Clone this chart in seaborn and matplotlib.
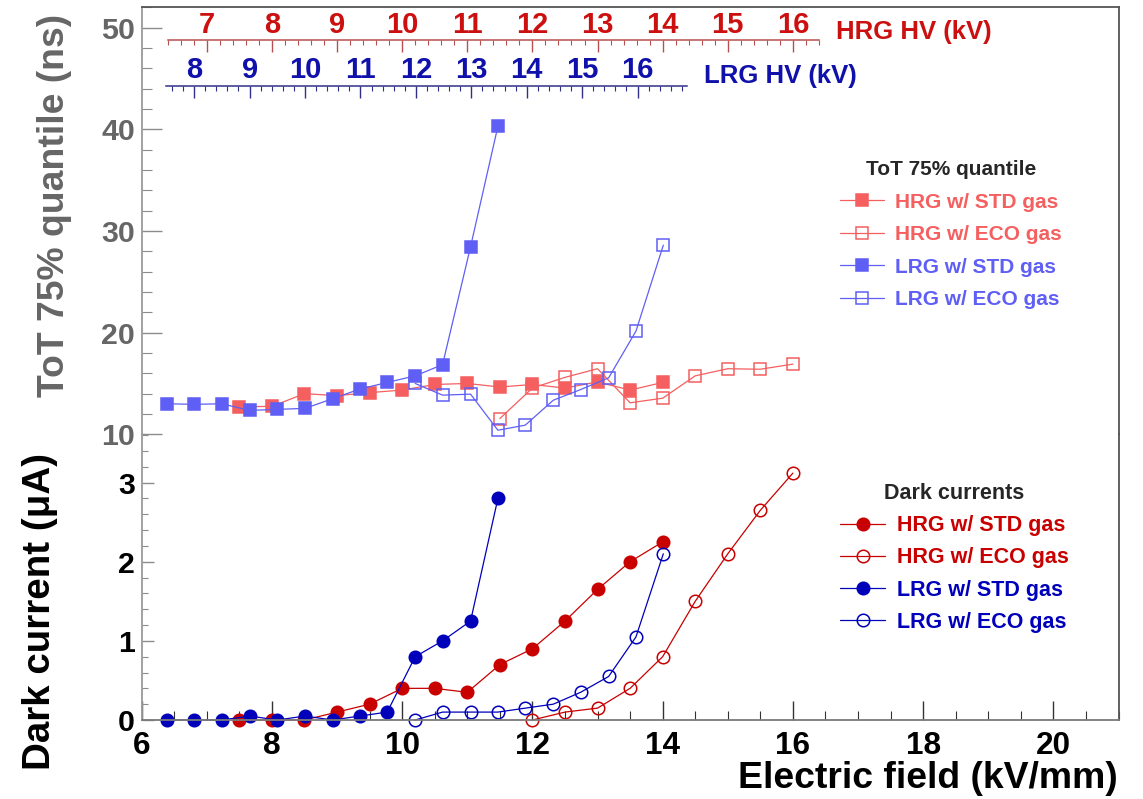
import math
import matplotlib
matplotlib.use("Agg")
import matplotlib.pyplot as plt
import seaborn as sns
from matplotlib import font_manager
from matplotlib.ticker import MultipleLocator, FixedLocator

# Electric field (kV/mm) of each measurement point
field_hrg_std = [7.5, 8.0, 8.5, 9.0, 9.5, 10.0, 10.5, 11.0, 11.5, 12.0, 12.5, 13.0, 13.5, 14.0]
field_hrg_eco_tot = [11.5, 12.0, 12.5, 13.0, 13.5, 14.0, 14.5, 15.0, 15.5, 16.0]
field_hrg_eco_dc = [12.0, 12.5, 13.0, 13.5, 14.0, 14.5, 15.0, 15.5, 16.0]
field_lrg_std = [6.39, 6.81, 7.23, 7.66, 8.08, 8.51, 8.93, 9.35, 9.77, 10.20, 10.62, 11.05, 11.47]
field_lrg_eco = [10.20, 10.62, 11.05, 11.47, 11.89, 12.32, 12.74, 13.17, 13.59, 14.01]

# ToT 75% quantile (ns)
tot_hrg_std = [12.7, 12.75, 14.0, 13.8, 14.1, 14.35, 14.9, 15.0, 14.65, 14.9, 14.55, 15.15, 14.35, 15.1]
tot_hrg_eco = [11.55, 14.55, 15.6, 16.45, 13.1, 13.55, 15.75, 16.45, 16.4, 16.9]
tot_lrg_std = [13.0, 12.95, 13.0, 12.35, 12.45, 12.55, 13.5, 14.45, 15.1, 15.75, 16.85, 28.45, 40.3]
tot_lrg_eco = [15.0, 13.85, 13.95, 10.4, 10.9, 13.35, 14.4, 15.55, 20.15, 28.6]

# Dark currents (uA)
dc_hrg_std = [0, 0, 0, 0.1, 0.2, 0.4, 0.4, 0.35, 0.7, 0.9, 1.25, 1.65, 2.0, 2.25]
dc_hrg_eco = [0, 0.1, 0.15, 0.4, 0.8, 1.5, 2.1, 2.65, 3.12]
dc_lrg_std = [0, 0, 0, 0.05, 0, 0.05, 0, 0.05, 0.1, 0.8, 1.0, 1.25, 2.8]
dc_lrg_eco = [0, 0.1, 0.1, 0.1, 0.15, 0.2, 0.35, 0.55, 1.05, 2.1]

series_labels = ["HRG w/ STD gas", "HRG w/ ECO gas", "LRG w/ STD gas", "LRG w/ ECO gas"]

# HV scales drawn inside the plot (kV range, field span, height in ns)
hrg_hv_range = (6.4, 16.4)
hrg_hv_field = (6.4, 16.4)
hrg_hv_level = 48.74
lrg_hv_range = (7.5, 16.9)
lrg_hv_field = (6.38, 14.38)
lrg_hv_level = 44.28

HRG_TOT = "#f55f5f"
LRG_TOT = "#5f5ff5"
HRG_DC = "#c80000"
LRG_DC = "#0000bb"

sns.set_theme(style="white")
names = {f.name for f in font_manager.fontManager.ttflist}
narrow = "Liberation Sans Narrow" in names
AX_FONT = "Liberation Sans Narrow" if narrow else "Liberation Sans"
k = 1.0 if narrow else 0.84
plt.rcParams["font.family"] = [AX_FONT, "DejaVu Sans"]
plt.rcParams["font.weight"] = "bold"
NORMAL = ["Liberation Sans", "DejaVu Sans"]

fig = plt.figure(figsize=(11.43, 7.99), dpi=100)
fig.patch.set_facecolor("white")
ax_tot = fig.add_axes([0.12397, 0.45645, 0.8546, 0.53442])
ax_dc = fig.add_axes([0.12397, 0.09887, 0.8546, 0.35757], sharex=ax_tot)
for a in (ax_tot, ax_dc):
    a.patch.set_visible(False)


def draw(ax, x, y, color, marker, filled):
    sns.lineplot(x=x, y=y, ax=ax, color=color, linewidth=0.9, marker=marker,
                 markersize=9, markerfacecolor=color if filled else "none",
                 markeredgecolor=color, markeredgewidth=1.1, estimator=None,
                 sort=False, legend=False, clip_on=False)
    return ax.lines[-1]


tot_handles = [
    draw(ax_tot, field_hrg_std, tot_hrg_std, HRG_TOT, "s", True),
    draw(ax_tot, field_hrg_eco_tot, tot_hrg_eco, HRG_TOT, "s", False),
    draw(ax_tot, field_lrg_std, tot_lrg_std, LRG_TOT, "s", True),
    draw(ax_tot, field_lrg_eco, tot_lrg_eco, LRG_TOT, "s", False),
]
dc_handles = [
    draw(ax_dc, field_hrg_std, dc_hrg_std, HRG_DC, "o", True),
    draw(ax_dc, field_hrg_eco_dc, dc_hrg_eco, HRG_DC, "o", False),
    draw(ax_dc, field_lrg_std, dc_lrg_std, LRG_DC, "o", True),
    draw(ax_dc, field_lrg_eco, dc_lrg_eco, LRG_DC, "o", False),
]

# axes ranges and ticks
ax_dc.set_xlim(6, 21)
ax_tot.set_ylim(10, 52)
ax_dc.set_ylim(0, 3.61)
ax_dc.xaxis.set_major_locator(MultipleLocator(2))
ax_dc.xaxis.set_minor_locator(MultipleLocator(0.5))
ax_tot.yaxis.set_major_locator(MultipleLocator(10))
ax_tot.yaxis.set_minor_locator(MultipleLocator(2))
ax_dc.yaxis.set_major_locator(MultipleLocator(1))
ax_dc.yaxis.set_minor_locator(MultipleLocator(0.2))
ax_tot.set_xlabel("")
ax_tot.set_ylabel("")
ax_dc.set_xlabel("")
ax_dc.set_ylabel("")

ax_tot.tick_params(axis="x", which="both", bottom=False, top=False, labelbottom=False)
ax_tot.tick_params(axis="y", which="both", direction="in", left=True, colors="#8c8c8c",
                   labelcolor="#666666", labelsize=26 * k, pad=5)
ax_tot.tick_params(axis="y", which="major", length=14.4, width=1.0)
ax_tot.tick_params(axis="y", which="minor", length=7.2, width=0.8)
ax_dc.tick_params(axis="y", which="both", direction="in", left=True, colors="#8c8c8c",
                  labelcolor="black", labelsize=26 * k, pad=5)
ax_dc.tick_params(axis="y", which="major", length=8.6, width=1.0)
ax_dc.tick_params(axis="y", which="minor", length=4.3, width=0.8)
ax_dc.tick_params(axis="x", which="both", direction="in", bottom=True, colors="#333333",
                  labelcolor="black", labelsize=27 * k, pad=8)
ax_dc.tick_params(axis="x", which="major", length=13.7, width=1.0)
ax_dc.tick_params(axis="x", which="minor", length=6.5, width=0.8)

ax_tot.spines["bottom"].set_visible(False)
ax_dc.spines["top"].set_visible(False)
for a in (ax_tot, ax_dc):
    a.spines["left"].set_color("#9a9a9a")
    a.spines["right"].set_color("#555555")
    for s in a.spines.values():
        s.set_linewidth(1.3)
ax_tot.spines["top"].set_color("#555555")
ax_dc.spines["bottom"].set_color("#7a7a7a")


def hv_axis(hv_range, hv_field, level, line_color, text_color):
    axh = ax_tot.inset_axes([hv_field[0], level - 2, hv_field[1] - hv_field[0], 2],
                            transform=ax_tot.transData)
    axh.set_xlim(*hv_range)
    axh.patch.set_visible(False)
    for s in ("left", "right", "bottom"):
        axh.spines[s].set_visible(False)
    axh.spines["top"].set_color(line_color)
    axh.spines["top"].set_linewidth(1.1)
    axh.set_yticks([])
    axh.xaxis.set_ticks_position("top")
    # only whole kV values that lie on the scale
    majors = list(range(math.ceil(hv_range[0]), math.floor(hv_range[1]) + 1))
    axh.xaxis.set_major_locator(FixedLocator(majors))
    axh.xaxis.set_minor_locator(MultipleLocator(0.2))
    axh.tick_params(axis="x", which="both", direction="in", colors=line_color,
                    labelcolor=text_color, labelsize=21, pad=1.2)
    axh.tick_params(axis="x", which="major", length=8.6, width=1.0)
    axh.tick_params(axis="x", which="minor", length=3.6, width=0.8)
    plt.setp(axh.get_xticklabels(), family=NORMAL)
    return axh


hv_axis(hrg_hv_range, hrg_hv_field, hrg_hv_level, "#b85050", "#cc1010")
hv_axis(lrg_hv_range, lrg_hv_field, lrg_hv_level, "#303088", "#1010aa")
ax_tot.text(16.66, 48.88, "HRG HV (kV)", color="#cc1010", fontsize=18.5,
            family=NORMAL, ha="left", va="baseline")
ax_tot.text(14.64, 44.55, "LRG HV (kV)", color="#1010aa", fontsize=18.5,
            family=NORMAL, ha="left", va="baseline")

# legends
leg_kw = dict(loc="upper left", bbox_transform=fig.transFigure, frameon=False,
              borderpad=0, borderaxespad=0, handlelength=2.1, handletextpad=0.55)
ax_tot.legend(tot_handles, series_labels, title="ToT 75% quantile",
              bbox_to_anchor=(840 / 1143, 1 - 160 / 799), labelspacing=0.65,
              labelcolor=[HRG_TOT, HRG_TOT, LRG_TOT, LRG_TOT],
              prop={"family": NORMAL, "weight": "bold", "size": 15},
              title_fontproperties={"family": NORMAL, "weight": "bold", "size": 15},
              **leg_kw)
ax_dc.legend(dc_handles, series_labels, title="Dark currents",
             bbox_to_anchor=(840 / 1143, 1 - 483 / 799), labelspacing=0.52,
             labelcolor=[HRG_DC, HRG_DC, LRG_DC, LRG_DC],
             prop={"family": NORMAL, "weight": "bold", "size": 15.5},
             title_fontproperties={"family": NORMAL, "weight": "bold", "size": 15.5},
             **leg_kw)

# axis titles
fig.text(1118 / 1143, 1 - 788 / 799, "Electric field (kV/mm)", ha="right",
         va="baseline", fontsize=32 * k, color="black")
fig.text(55 / 1143, 1 - 205 / 799, "ToT 75% quantile (ns)", rotation=90,
         ha="center", va="center", fontsize=32 * k, color="#666666")
fig.text(40 / 1143, 1 - 612 / 799, "Dark current (\u03bcA)", rotation=90,
         ha="center", va="center", fontsize=33 * k, color="black")

fig.savefig("out.png", dpi=100)
